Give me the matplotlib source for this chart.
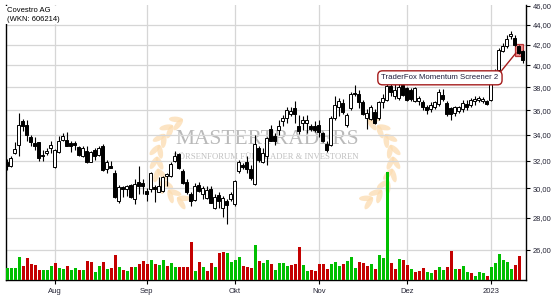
import numpy as np
import matplotlib.pyplot as plt
from matplotlib.patches import Rectangle, Ellipse
from matplotlib.ticker import FixedLocator, NullLocator

# daily candles, 14 Jul 2022 .. 12 Jan 2023 (index = trading day)
opens = [31.95, 31.60, 32.60, 33.18, 35.09, 34.82, 33.82, 33.36, 33.41, 32.41,
         32.60, 32.97, 31.56, 32.68, 33.62, 33.62, 33.36, 33.36, 33.02, 32.38,
         32.72, 31.95, 32.85, 32.46, 33.10, 31.37, 31.60, 31.07, 29.14, 30.08,
         29.96, 30.25, 29.26, 30.43, 30.37, 29.85, 29.96, 30.08, 29.78, 29.85,
         30.86, 30.86, 32.02, 32.54, 31.25, 30.43, 29.61, 29.21, 30.25, 29.61,
         29.36, 29.96, 28.68, 29.54, 28.68, 29.14, 29.26, 28.91, 31.25, 31.72,
         31.95, 31.40, 30.32, 32.97, 31.95, 32.38, 34.46, 33.92, 34.41, 35.09,
         35.36, 35.71, 36.19, 34.74, 34.96, 35.00, 34.74, 34.74, 34.82, 34.14,
         33.30, 33.23, 35.36, 36.28, 36.60, 34.80, 36.20, 37.50, 37.40, 36.70,
         35.40, 35.30, 35.90, 35.40, 36.70, 36.90, 38.10, 37.20, 37.06, 38.20,
         37.93, 37.80, 36.80, 36.77, 36.68, 36.33, 36.10, 36.28, 36.57, 37.35,
         36.62, 36.19, 35.77, 35.98, 36.11, 36.57, 36.48, 36.80, 36.91, 36.77,
         36.77, 36.91, 38.70, 39.60, 41.41, 41.90, 42.80, 42.65, 41.85, 41.40]
highs = [32.13, 32.38, 33.46, 35.82, 35.33, 35.17, 34.00, 33.82, 33.45, 32.79,
         32.97, 33.54, 32.90, 33.92, 34.19, 34.27, 33.56, 33.56, 33.10, 33.10,
         33.10, 32.72, 32.97, 33.15, 33.28, 32.07, 32.02, 31.32, 30.25, 30.20,
         30.25, 30.32, 30.67, 31.65, 30.67, 30.00, 31.18, 30.25, 30.78, 30.90,
         31.09, 31.88, 32.72, 32.59, 31.37, 30.67, 29.78, 30.39, 30.43, 30.20,
         30.15, 30.15, 29.61, 29.78, 29.50, 29.26, 29.78, 30.62, 32.07, 31.84,
         32.33, 31.72, 34.00, 33.10, 32.97, 33.82, 34.82, 34.19, 35.22, 35.63,
         36.33, 36.28, 36.77, 35.63, 35.50, 35.63, 34.90, 35.09, 35.17, 34.27,
         33.49, 35.50, 37.20, 37.06, 37.00, 35.80, 37.60, 38.20, 37.80, 36.90,
         36.10, 36.50, 36.10, 36.80, 37.40, 38.30, 38.30, 38.30, 38.50, 38.40,
         38.07, 37.90, 38.00, 37.27, 36.91, 36.48, 36.70, 36.80, 37.84, 37.84,
         36.77, 36.33, 36.39, 36.40, 36.91, 36.91, 37.06, 37.20, 37.27, 37.15,
         36.90, 38.84, 39.70, 41.70, 42.13, 42.90, 43.40, 42.90, 42.00, 41.50]
lows = [31.32, 31.53, 32.48, 32.33, 34.35, 33.56, 33.10, 32.80, 32.02, 32.02,
        32.45, 32.59, 31.49, 32.59, 33.49, 33.10, 32.64, 32.85, 32.38, 32.28,
        31.84, 31.88, 32.07, 32.38, 31.25, 31.09, 31.46, 29.33, 28.98, 29.38,
        29.50, 29.31, 28.90, 29.61, 29.61, 29.14, 29.73, 29.07, 29.73, 29.73,
        30.20, 30.78, 31.88, 31.42, 30.32, 29.61, 28.79, 29.10, 29.73, 29.26,
        29.26, 28.98, 28.60, 28.68, 28.05, 27.63, 29.14, 28.79, 31.13, 31.37,
        31.13, 30.60, 30.25, 31.95, 31.84, 31.72, 33.49, 33.23, 34.00, 34.74,
        34.96, 35.55, 35.00, 34.08, 34.41, 34.19, 34.33, 34.27, 33.87, 33.41,
        32.64, 33.10, 35.22, 35.55, 35.70, 34.60, 36.00, 37.20, 36.20, 35.60,
        34.50, 35.20, 34.90, 35.20, 36.20, 36.80, 37.20, 37.00, 36.90, 37.20,
        36.77, 36.80, 36.70, 36.48, 36.04, 35.69, 35.90, 36.10, 36.39, 36.77,
        35.50, 35.22, 35.50, 35.80, 35.90, 36.04, 36.28, 36.48, 36.68, 36.60,
        36.50, 36.77, 38.50, 39.40, 41.30, 41.70, 42.56, 41.85, 41.10, 40.25]
closes = [31.65, 32.25, 32.92, 34.82, 34.68, 34.00, 33.41, 33.10, 32.20, 32.35,
          32.75, 33.23, 32.85, 33.54, 33.90, 33.15, 33.15, 33.23, 32.46, 32.97,
          31.88, 32.64, 32.33, 32.97, 31.30, 31.88, 31.50, 29.38, 30.08, 29.96,
          30.15, 29.38, 30.32, 30.20, 30.15, 29.61, 31.09, 29.96, 30.20, 30.78,
          31.02, 31.79, 32.38, 31.49, 30.39, 29.73, 29.14, 30.15, 29.85, 30.00,
          29.92, 29.03, 29.38, 29.14, 29.31, 28.84, 29.61, 30.55, 31.95, 31.56,
          31.37, 30.72, 33.30, 32.07, 32.59, 33.74, 33.56, 33.56, 34.68, 35.36,
          36.04, 35.98, 35.71, 34.35, 35.17, 35.22, 34.46, 34.41, 34.27, 33.56,
          32.79, 35.36, 36.48, 36.77, 35.90, 35.60, 37.40, 37.40, 36.70, 35.70,
          35.80, 36.30, 35.00, 36.70, 37.10, 38.10, 37.60, 37.78, 38.07, 37.35,
          36.91, 37.00, 37.90, 37.06, 36.28, 36.04, 36.48, 36.68, 37.55, 36.97,
          35.71, 35.71, 36.28, 36.28, 36.62, 36.28, 36.91, 36.97, 37.08, 36.97,
          36.57, 38.68, 39.50, 41.48, 41.85, 42.50, 43.05, 41.97, 41.20, 40.55]

# volume in thousand shares, g = up day, r = down day
volume = [960, 960, 960, 1840, 1120, 1760, 1280, 1200, 800, 800, 800, 1120,
          1360, 960, 880, 1120, 800, 960, 800, 800, 1520, 1440, 640, 1120,
          1440, 880, 960, 2000, 1040, 800, 720, 1040, 1040, 1280, 1520, 1280,
          1600, 1280, 1200, 1600, 1120, 1360, 1040, 1040, 1040, 1040, 3040, 720,
          1440, 1040, 720, 1360, 1040, 2160, 2240, 2160, 1440, 1600, 1840, 1120,
          1040, 960, 2800, 1520, 1360, 1600, 1280, 800, 1360, 1360, 1120, 1200,
          1280, 2640, 1200, 720, 800, 720, 1280, 1280, 880, 1280, 1440, 1120,
          1280, 1520, 1840, 960, 1440, 1360, 1120, 1280, 880, 2000, 1760, 8640,
          1360, 880, 1680, 1600, 1200, 880, 640, 720, 960, 640, 560, 800,
          1040, 800, 1040, 2320, 880, 880, 1120, 640, 560, 320, 640, 560,
          320, 1040, 1360, 2080, 1600, 1440, 880, 1200, 1920]
vol_dir = ("ggggrrrrrggg" "rggrggrgrrgg" "rgrrgrgrgrrr" "grggrggrrrrg"
           "rgrrgrrggggr" "rrgrggrggggr" "rrggrrrrrggg" "rgggrrrgrggg"
           "rrgrrgrrrggr" "ggrrgrggrggg" "rggggggrr")

month_idx = [12, 35, 57, 78, 100, 121]
month_labels = ['Aug', 'Sep', 'Okt', 'Nov', 'Dez', '2023']
price_ticks = [26, 28, 30, 32, 34, 36, 38, 40, 42, 44, 46]
signal_idx = 128
signal_text = 'TraderFox Momentum Screener 2'
title_text = 'Covestro AG\n(WKN: 606214)'

plt.rcParams['font.family'] = ['Liberation Sans', 'DejaVu Sans']

W, H = 555, 300
fig = plt.figure(figsize=(W / 100, H / 100), dpi=100)

# watermark layer in pixel coordinates
bg = fig.add_axes([0, 0, 1, 1], zorder=-1)
bg.set_xlim(0, W)
bg.set_ylim(H, 0)
bg.axis('off')
leaf = '#fcdcb0'
for cx, side in [(199, -1), (351, 1)]:
    for t in np.linspace(np.radians(-66), np.radians(60), 9):
        px = cx + side * 42 * np.cos(t)
        py = 160 + 44 * np.sin(t)
        ang = np.degrees(t) * side
        for off in (-28, 28):
            a = ang + 90 + off
            ox = 6 * np.cos(np.radians(a))
            oy = 6 * np.sin(np.radians(a))
            bg.add_patch(Ellipse((px + ox, py + oy), 14, 5.5, angle=a,
                                 color=leaf, alpha=0.75, lw=0))
bg.text(267, 139, 'MASTERTRADERS', ha='center', va='center', fontsize=15.5,
        family='Liberation Serif', color='#b9b9b9')
bg.text(266, 157, 'BÖRSENFORUM FÜR TRADER & INVESTOREN', ha='center',
        va='center', fontsize=6.2, family='Liberation Serif', color='#c0c0c0')

ax = fig.add_axes([5.7 / W, 20 / H, 520 / W, 275 / H])
ax.patch.set_alpha(0)
ax.set_yscale('log')
ax.set_xlim(-0.25, 129.75)
ax.set_ylim(24.22, 46.07)

grid_c = '#d6d6d6'
for p in price_ticks[:-1]:
    ax.axhline(p, color=grid_c, lw=0.9, zorder=0)
for m in month_idx:
    ax.axvline(m, color=grid_c, lw=0.9, zorder=0)

x = np.arange(len(opens))
o = np.array(opens)
c = np.array(closes)
ax.vlines(x, lows, highs, color='black', lw=0.8, zorder=2)
faces = ['white' if cc >= oo else 'black' for oo, cc in zip(o, c)]
ax.bar(x, np.abs(c - o), bottom=np.minimum(o, c), width=0.72, color=faces,
       edgecolor='black', linewidth=0.7, zorder=3)

# signal marker
s_lo = lows[signal_idx] * 0.996
s_hi = highs[signal_idx] * 1.002
ax.add_patch(Rectangle((signal_idx - 0.95, s_lo), 1.9, s_hi - s_lo,
                       facecolor='#f07a7a', edgecolor='#b01c1c', lw=0.9,
                       alpha=0.85, zorder=1))
ax.annotate(signal_text, xy=(signal_idx, (s_lo * s_hi) ** 0.5),
            xytext=(-14.5, -20.3), textcoords='offset points',
            ha='right', va='center', fontsize=5.6, color='#1c1c3a',
            bbox=dict(boxstyle='round,pad=0.45,rounding_size=0.6', fc='white',
                      ec='#a51c1c', lw=1.0),
            arrowprops=dict(arrowstyle='-', color='#a51c1c', lw=1.0,
                            relpos=(1.0, 1.0), shrinkA=0, shrinkB=3),
            zorder=6)

# volume panel on top of the grid
vax = ax.twinx()
vax.set_ylim(0, 22000)
vcol = ['#00bf00' if d == 'g' else '#c40000' for d in vol_dir]
vx = np.arange(len(volume)) + 0.15
vax.bar(vx, volume, width=0.8, color=vcol, lw=0)
vax.set_yticks([])
vax.tick_params(right=False, labelright=False, left=False, labelleft=False)
for s in vax.spines.values():
    s.set_visible(False)

# price axis on the right (after twinx, which resets it)
ax.yaxis.set_major_locator(FixedLocator(price_ticks))
ax.yaxis.set_minor_locator(NullLocator())
ax.set_yticklabels([f'{p:.2f}'.replace('.', ',') for p in price_ticks])
ax.set_xticks(month_idx)
ax.set_xticklabels(month_labels)
ax.yaxis.tick_right()
ax.yaxis.set_label_position('right')
ax.tick_params(axis='y', which='major', left=False, labelleft=False,
               right=True, labelright=True, length=3, width=0.8, pad=2.2,
               labelsize=5.4, labelcolor='#222233')
ax.tick_params(axis='x', length=3, width=0.8, pad=3, labelsize=5.5,
               labelcolor='#222233')
ax.spines['top'].set_visible(False)
for s in ['left', 'right', 'bottom']:
    ax.spines[s].set_linewidth(1.0)
    ax.spines[s].set_color('black')

fig.text(7 / W, 1 - 7.5 / H, title_text, ha='left', va='top', fontsize=5.5,
         linespacing=1.25, color='black',
         bbox=dict(fc='white', ec='none', pad=1.2))

fig.savefig('out.png', dpi=100)
